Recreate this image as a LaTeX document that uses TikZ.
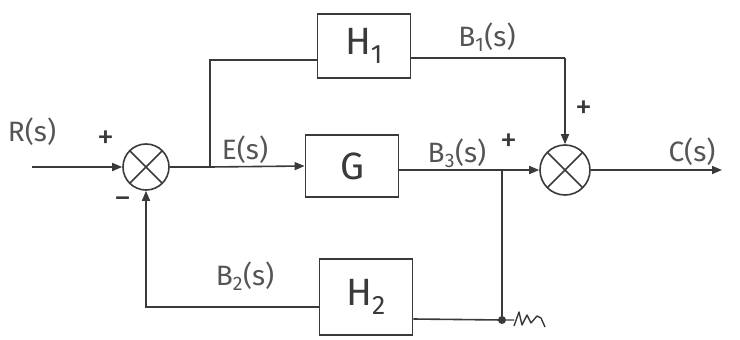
\documentclass[tikz,border=0pt]{standalone}
\usepackage{fontspec}
\setmainfont{Fira Sans}
\usetikzlibrary{arrows.meta,calc}
\definecolor{ink}{HTML}{3A3A3A}
\definecolor{txt}{HTML}{555555}
\begin{document}
\begin{tikzpicture}[x=1pt,y=-1pt,
  wire/.style={draw=ink,line width=1.6pt},
  arr/.style={wire,-{Triangle[length=10pt,width=8pt]}},
  blockbox/.style={draw=ink,line width=1.8pt,minimum width=93pt,inner sep=0pt,font=\fontsize{38}{38}\selectfont,text=ink},
  sumnode/.style={circle,draw=ink,line width=1.6pt,inner sep=0pt,
    path picture={\draw[ink,line width=1.6pt]
      (path picture bounding box.north west)--(path picture bounding box.south east)
      (path picture bounding box.north east)--(path picture bounding box.south west);}},
  lbl/.style={text=txt,font=\fontsize{28}{28}\selectfont,inner sep=0pt},
  sgn/.style={text=ink,font=\fontsize{34}{34}\selectfont,inner sep=0pt}]
\useasboundingbox (0,0) rectangle (740,340);
% blocks
\node[sumnode,minimum size=46pt] (s1) at (146,167) {};
\node[sumnode,minimum size=50pt] (s2) at (565,170) {};
\node[blockbox,minimum height=62pt] (G) at (352,166) {G};
\node[blockbox,minimum height=64pt] (H1) at (364,46) {H\textsubscript{1}};
\node[blockbox,minimum height=76pt] (H2) at (366,297) {H\textsubscript{2}};
% coordinates
\coordinate (in) at (32,167);
\coordinate (out) at (722,170);
\coordinate (jE) at (210,167);
\coordinate (jB) at (502,170);
\coordinate (jD) at (502,320);
\coordinate (tr) at (565,58);
\coordinate (h2o) at ([yshift=-10pt]H2.west);
% connectors
\draw[arr] (in) -- (s1.west);
\draw[wire] (s1.east) -- (jE);
\draw[arr] (jE) -- (G.west);
\draw[wire] (jE) |- ([yshift=-14pt]H1.west);
\draw[wire] ([yshift=-12pt]H1.east) -| (tr);
\draw[arr] (tr) -- (s2.north);
\draw[wire] (G.east |- jB) -- (jB);
\draw[arr] (jB) -- (s2.west);
\draw[arr] (s2.east) -- (out);
\draw[wire] (jB) -- (jD);
\draw[wire] (jD) -- ([yshift=-22pt]H2.east);
\draw[arr] (h2o) -| (s1.south);
\fill[ink] (jD) circle (4pt);
\draw[ink,line width=1.4pt,line join=round] (jD) -- (514,320)
  (514,326) -- (519,312) -- (522,325) -- (527,315) -- (531,323) -- (537,316) -- (541,318) -- (545,327);
% labels
\node[lbl] at (32,132) {R(s)};
\node[sgn] at (106,140) {+};
\node[sgn] at (123,203) {−};
\node[lbl] at (245,150) {E(s)};
\node[lbl] at (487,37) {B\textsubscript{1}(s)};
\node[lbl] at (457,153) {B\textsubscript{3}(s)};
\node[sgn] at (509,143) {+};
\node[sgn] at (584,110) {+};
\node[lbl] at (692,152) {C(s)};
\node[lbl] at (245,276) {B\textsubscript{2}(s)};
\end{tikzpicture}
\end{document}
